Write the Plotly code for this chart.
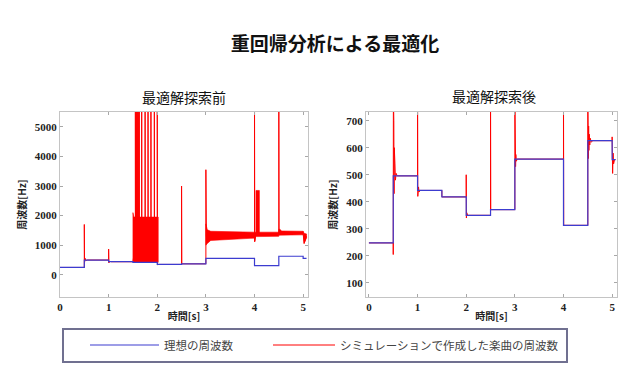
import plotly.graph_objects as go

W, H = 640, 390

# ---------------- data ----------------
# ideal frequency: value held from each time point to the next
ideal_t = [0.0, 0.5, 1.0, 1.5, 2.0, 2.5, 3.0, 4.0, 4.5, 5.0, 5.07]
ideal_f = [248, 496, 442, 418, 350, 371, 558, 313, 626, 556, 556]

# simulated frequency before optimisation (left panel)
before_t = [0.00, 0.50, 0.50, 0.505, 0.515, 0.53, 0.56, 1.00, 1.00, 1.005, 1.02, 1.05, 1.50,
            1.55, 1.55, 1.553, 1.57, 1.57, 1.573, 1.59, 1.59, 1.593, 1.61, 1.61, 1.613,
            1.63, 1.63, 1.633, 1.68, 1.68, 1.683, 1.75, 1.75, 1.753, 1.81, 1.81, 1.813,
            1.87, 1.87, 1.873, 1.94, 1.94, 1.943, 2.00, 2.00, 2.005, 2.03,
            2.50, 2.50, 2.505, 3.00, 3.00, 3.01, 4.00, 4.00, 4.005, 4.03, 4.50, 4.50,
            4.505, 5.00, 5.02, 5.07]
before_f = [248, 248, 1700, 420, 560, 480, 500, 500, 870, 400, 460, 442, 442,
            1000, 6000, 1000, 1000, 6000, 1000, 1000, 6000, 1000, 1000, 6000, 1000,
            1000, 6000, 1000, 1000, 6000, 1000, 1000, 6000, 1000, 1000, 6000, 1000,
            1000, 6000, 1000, 1000, 6000, 1000, 1000, 6000, 340, 350,
            350, 3000, 371, 371, 3550, 1300, 1340, 6000, 1120, 1380, 1370, 6000,
            1400, 1400, 1060, 1300]

# dense oscillation envelopes in the left panel (None separates regions)
band_t = [1.50, 1.52, 2.02, None,
          3.00, 3.03, 3.10, 3.50, 4.00, None,
          4.00, 4.02, 4.50, None,
          4.03, 4.10, None,
          4.50, 4.52, 4.56, 5.00, None,
          5.00, 5.02, 5.07]
band_hi = [2100, 1950, 1950, None,
           1720, 1520, 1470, 1450, 1440, None,
           1440, 1440, 1440, None,
           2850, 2850, None,
           1540, 1540, 1480, 1470, None,
           1470, 1400, 1380]
band_lo = [420, 420, 420, None,
           1000, 1060, 1160, 1200, 1240, None,
           1120, 1290, 1300, None,
           1350, 1350, None,
           1340, 1350, 1350, 1350, None,
           1300, 1060, 1250]

# simulated frequency after optimisation (right panel)
after_t = [0.00, 0.50, 0.50, 0.503, 0.507, 0.512, 0.517, 0.522, 0.528, 0.535, 0.545, 0.56, 0.58,
           1.00, 1.00, 1.005, 1.01, 1.015, 1.02, 1.03, 1.05, 1.50, 1.50,
           2.00, 2.00, 2.004, 2.01, 2.03, 2.50, 2.50, 2.505,
           3.00, 3.00, 3.005, 3.01, 3.015, 3.02, 3.03, 3.05, 4.00, 4.00, 4.005,
           4.50, 4.50, 4.503, 4.507, 4.512, 4.517, 4.522, 4.53, 4.54, 4.55, 4.57, 4.60,
           5.00, 5.00, 5.01, 5.02, 5.03, 5.05, 5.07]
after_f = [248, 248, 205, 800, 380, 700, 430, 600, 460, 540, 480, 505, 496,
           496, 800, 420, 470, 425, 455, 436, 442, 442, 418,
           418, 500, 340, 360, 350, 350, 800, 371,
           371, 800, 520, 600, 530, 575, 550, 558, 558, 800, 313,
           313, 800, 510, 760, 560, 680, 590, 650, 610, 635, 620, 626,
           626, 640, 505, 580, 540, 556, 556]

x_ticks = [0, 1, 2, 3, 4, 5]
before_y_ticks = [0, 1000, 2000, 3000, 4000, 5000]
after_y_ticks = [100, 200, 300, 400, 500, 600, 700]

title_text = "重回帰分析による最適化"
panel_titles = ["最適解探索前", "最適解探索後"]
legend_names = ["理想の周波数", "シミュレーションで作成した楽曲の周波数"]
x_title = "時間[s]"
y_title = "周波数[Hz]"

assert len(before_t) == len(before_f)
assert len(after_t) == len(after_f)
assert len(band_t) == len(band_hi) == len(band_lo)

# ---------------- build ----------------
RED = "#ff0000"
BLUE = "#3c3cd0"
CJK = "Noto Sans CJK JP"


def band_polygons(ts, his, los):
    xs, ys = [], []
    seg_t, seg_h, seg_l = [], [], []
    for t, h, l in list(zip(ts, his, los)) + [(None, None, None)]:
        if t is None:
            if seg_t:
                xs += seg_t + seg_t[::-1] + [seg_t[0], None]
                ys += seg_h + seg_l[::-1] + [seg_h[0], None]
            seg_t, seg_h, seg_l = [], [], []
        else:
            seg_t.append(t)
            seg_h.append(h)
            seg_l.append(l)
    return xs, ys


fig = go.Figure()

bx, by = band_polygons(band_t, band_hi, band_lo)
fig.add_trace(go.Scatter(x=bx, y=by, mode="lines", fill="toself", fillcolor=RED,
                         line=dict(color=RED, width=0.6), showlegend=False,
                         hoverinfo="skip", xaxis="x", yaxis="y"))
fig.add_trace(go.Scatter(x=before_t, y=before_f, mode="lines", name=legend_names[1],
                         line=dict(color=RED, width=1), legend="legend2",
                         xaxis="x", yaxis="y"))
fig.add_trace(go.Scatter(x=ideal_t, y=ideal_f, mode="lines", line_shape="hv",
                         name=legend_names[0], line=dict(color=BLUE, width=1.2),
                         legend="legend", xaxis="x", yaxis="y"))
fig.add_trace(go.Scatter(x=after_t, y=after_f, mode="lines", name=legend_names[1],
                         line=dict(color=RED, width=1), showlegend=False,
                         xaxis="x2", yaxis="y2"))
fig.add_trace(go.Scatter(x=ideal_t, y=ideal_f, mode="lines", line_shape="hv",
                         name=legend_names[0], line=dict(color=BLUE, width=1.2),
                         showlegend=False, xaxis="x2", yaxis="y2"))

y_bot = 1 - 297 / H
y_top = 1 - 112 / H

axis_common = dict(
    showline=True, mirror="ticks", linecolor="#c4c4c4", linewidth=1,
    ticks="inside", ticklen=3, tickcolor="#a8a8a8",
    showgrid=False, zeroline=False, automargin=False,
    tickfont=dict(family="Liberation Serif", size=11, color="#222222", weight="bold"),
)
xtitle = dict(text=x_title, font=dict(family=CJK, size=10, color="#222222", weight="bold"),
              standoff=0)
ytitle = dict(text=y_title, font=dict(family=CJK, size=10, color="#222222", weight="bold"),
              standoff=6)

legend_common = dict(orientation="h", yanchor="middle", xanchor="left",
                     font=dict(family=CJK, size=11.5, color="#444444"),
                     bgcolor="rgba(0,0,0,0)", borderwidth=0,
                     itemclick=False, itemdoubleclick=False)

fig.update_layout(
    width=W, height=H, autosize=False,
    margin=dict(l=0, r=0, t=0, b=0),
    paper_bgcolor="white", plot_bgcolor="white",
    title=dict(text=title_text, x=335 / W, y=1 - 44 / H, xanchor="center", yanchor="middle",
               font=dict(family=CJK, size=19, color="#111111", weight="bold")),
    xaxis=dict(domain=[60 / W, 308 / W], range=[0, 5.1], tickvals=x_ticks,
               anchor="y", title=xtitle, **axis_common),
    yaxis=dict(domain=[y_bot, y_top], range=[-750, 5500], tickvals=before_y_ticks,
               anchor="x", title=ytitle, **axis_common),
    xaxis2=dict(domain=[366 / W, 617 / W], range=[-0.06, 5.1], tickvals=x_ticks,
                anchor="y2", title=xtitle, **axis_common),
    yaxis2=dict(domain=[y_bot, y_top], range=[48, 732], tickvals=after_y_ticks,
                anchor="x2", title=ytitle, **axis_common),
    showlegend=True,
    legend=dict(x=85 / W, y=1 - 345 / H, itemwidth=69, **legend_common),
    legend2=dict(x=268 / W, y=1 - 345 / H, itemwidth=62, **legend_common),
    annotations=[
        dict(text=panel_titles[0], x=184 / W, y=1 - 97 / H, xref="paper", yref="paper",
             xanchor="center", yanchor="middle", showarrow=False,
             font=dict(family=CJK, size=14, color="#111111")),
        dict(text=panel_titles[1], x=494 / W, y=1 - 96 / H, xref="paper", yref="paper",
             xanchor="center", yanchor="middle", showarrow=False,
             font=dict(family=CJK, size=14, color="#111111")),
    ],
    shapes=[
        dict(type="rect", xref="paper", yref="paper",
             x0=63 / W, x1=567 / W, y0=1 - 362 / H, y1=1 - 329 / H,
             line=dict(color="#707090", width=2), fillcolor="rgba(0,0,0,0)", layer="below"),
    ],
)

fig.write_html("out.html", config={"displayModeBar": False},
               post_script="document.body.style.margin='0';")
